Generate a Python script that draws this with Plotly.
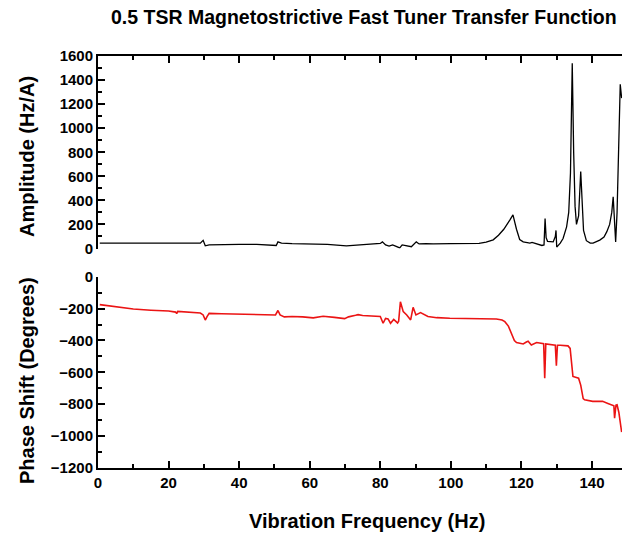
import plotly.graph_objects as go
from plotly.subplots import make_subplots

# Amplitude (Hz/A) vs frequency (Hz)
amp_freq = [0.5, 5, 10, 15, 20, 25, 29.0, 29.8, 30.4, 31.5, 35, 40, 45, 50.5, 51.0, 52, 55, 60, 65,
            70.4, 75, 80.0, 80.6, 81.5, 82.5, 83.5, 84.5, 85.5, 86.2, 87.0, 88.8, 90.2, 91.0, 93, 95,
            100, 105, 108, 110, 112, 113.5, 115, 116.7, 117.6, 118.6, 119.5, 120.5, 122.4, 123,
            124.3, 125.8, 126.4, 126.7, 127.0, 127.4, 129.0, 129.6, 129.8, 130.0, 131.0, 131.8,
            132.8, 133.4, 133.9, 134.4, 134.8, 135.2, 135.6, 136.2, 136.8, 137.2, 137.6, 138.4,
            139.5, 140.3, 141.5, 142.2, 143.4, 144.2, 145.0, 145.6, 146.0, 146.4, 146.7, 147.1,
            147.5, 148.0, 148.4]
amp_val = [45, 44, 43, 44, 43, 42, 44, 68, 22, 30, 33, 35, 34, 25, 55, 45, 40, 38, 35,
           22, 32, 42, 55, 30, 20, 30, 18, 5, 30, 25, 15, 55, 38, 40, 38,
           40, 38, 42, 52, 72, 110, 160, 236, 280, 160, 75, 55, 45, 50,
           38, 25, 30, 250, 90, 60, 55, 100, 150, 12, 45, 83,
           180, 300, 630, 1540, 800, 350, 200, 270, 640, 350, 150, 65,
           45, 45, 60, 70, 95, 140, 200, 300, 430, 200, 55, 300,
           700, 1364, 1250]

# Phase shift (degrees) vs frequency (Hz)
ph_freq = [0.5, 5, 10, 15, 20, 22.0, 22.3, 22.6, 25, 29.0, 29.8, 30.4, 30.9, 31.5, 35, 40, 45,
           50.3, 51.0, 51.6, 52.8, 55, 58, 60.0, 61, 63.8, 65, 67, 69.9, 71, 73, 73.7, 75, 78,
           80.0, 80.8, 81.5, 82.2, 82.9, 83.8, 84.9, 85.2, 85.7, 86.5, 87.5, 88.6, 89.3, 90.1,
           91.4, 93.5, 96, 99.7, 105, 110, 112.9, 114.5, 115.3, 116.3, 117.2, 118.0, 118.6,
           120.5, 121.4, 121.9, 122.8, 124.3, 126.3, 126.6, 126.9, 129.6, 129.9, 130.2, 131.0,
           133.2, 133.8, 134.3, 134.6, 136.2, 136.8, 137.5, 137.9, 140.2, 141.5, 143.0, 144.5,
           145.5, 146.2, 146.4, 146.8, 147.1, 147.6, 148.4]
ph_val = [-175, -190, -203, -210, -215, -222, -232, -218, -222, -228, -240, -272, -250, -230,
          -232, -235, -238, -240, -212, -240, -252, -250, -252, -258, -258, -248, -252, -255,
          -263, -252, -242, -238, -243, -245, -250, -292, -262, -265, -292, -268, -290, -280,
          -157, -219, -240, -271, -192, -240, -225, -250, -257, -261, -263, -265, -265, -272,
          -282, -310, -355, -400, -413, -422, -410, -405, -428, -413, -420, -637, -422, -430,
          -559, -430, -430, -434, -450, -550, -626, -637, -680, -765, -772, -782, -783, -782,
          -795, -803, -810, -887, -805, -803, -850, -975]

x_ticks = [0, 20, 40, 60, 80, 100, 120, 140]

FONT = "Liberation Sans, Arial, sans-serif"
W, H = 622, 536
ML, MR, MT, MB = 98, 0, 56, 68
PH = H - MT - MB
PW = W - ML - MR
top_dom = [1 - (248.5 - MT) / PH, 1.0]
bot_dom = [0.0, 1 - (276.7 - MT) / PH]


def px_x(px):
    return (px - ML) / PW


def px_y(py):
    return 1 - (py - MT) / PH


fig = make_subplots(rows=2, cols=1, shared_xaxes=False, vertical_spacing=0.05)
fig.add_trace(go.Scatter(x=amp_freq, y=amp_val, mode="lines",
                         line=dict(color="black", width=1.3), showlegend=False), row=1, col=1)
fig.add_trace(go.Scatter(x=ph_freq, y=ph_val, mode="lines",
                         line=dict(color="rgb(235,20,20)", width=1.6), showlegend=False), row=2, col=1)

axis_common = dict(showline=True, linecolor="black", linewidth=2, ticks="inside",
                   tickwidth=2, ticklen=7, tickcolor="black", showgrid=False, zeroline=False,
                   tickfont=dict(family=FONT, size=15, color="black", weight="bold"))
minor_x = dict(ticks="inside", dtick=10, ticklen=4, tickwidth=2, tickcolor="black")
minor_y = dict(ticks="inside", dtick=100, ticklen=4, tickwidth=2, tickcolor="black")

fig.update_layout(
    width=W, height=H, margin=dict(l=ML, r=MR, t=MT, b=MB),
    paper_bgcolor="white", plot_bgcolor="white",
    xaxis=dict(domain=[0, 1], range=[0, 148.5], side="top", showticklabels=False,
               tickvals=x_ticks, minor=minor_x, anchor="y", **axis_common),
    yaxis=dict(domain=top_dom, range=[0, 1600], dtick=200, minor=minor_y, **axis_common),
    xaxis2=dict(domain=[0, 1], range=[0, 148.5], tickvals=x_ticks, minor=minor_x,
                anchor="y2", **axis_common),
    yaxis2=dict(domain=bot_dom, range=[-1200, 0], dtick=200, minor=minor_y, **axis_common),
)

fig.add_annotation(text="<b>0.5 TSR Magnetostrictive Fast Tuner Transfer Function</b>",
                   xref="paper", yref="paper", x=px_x(619), y=px_y(17),
                   xanchor="right", yanchor="middle", showarrow=False,
                   font=dict(family=FONT, size=19.5, color="black"))
fig.add_annotation(text="<b>Vibration Frequency (Hz)</b>",
                   xref="paper", yref="paper", x=px_x(367), y=px_y(521),
                   xanchor="center", yanchor="middle", showarrow=False,
                   font=dict(family=FONT, size=20, color="black"))
fig.add_annotation(text="<b>Amplitude (Hz/A)</b>", textangle=-90,
                   xref="paper", yref="paper", x=px_x(27), y=px_y(157),
                   xanchor="center", yanchor="middle", showarrow=False,
                   font=dict(family=FONT, size=20, color="black"))
fig.add_annotation(text="<b>Phase Shift (Degrees)</b>", textangle=-90,
                   xref="paper", yref="paper", x=px_x(27), y=px_y(381),
                   xanchor="center", yanchor="middle", showarrow=False,
                   font=dict(family=FONT, size=20, color="black"))
fig.write_html("out.html")
